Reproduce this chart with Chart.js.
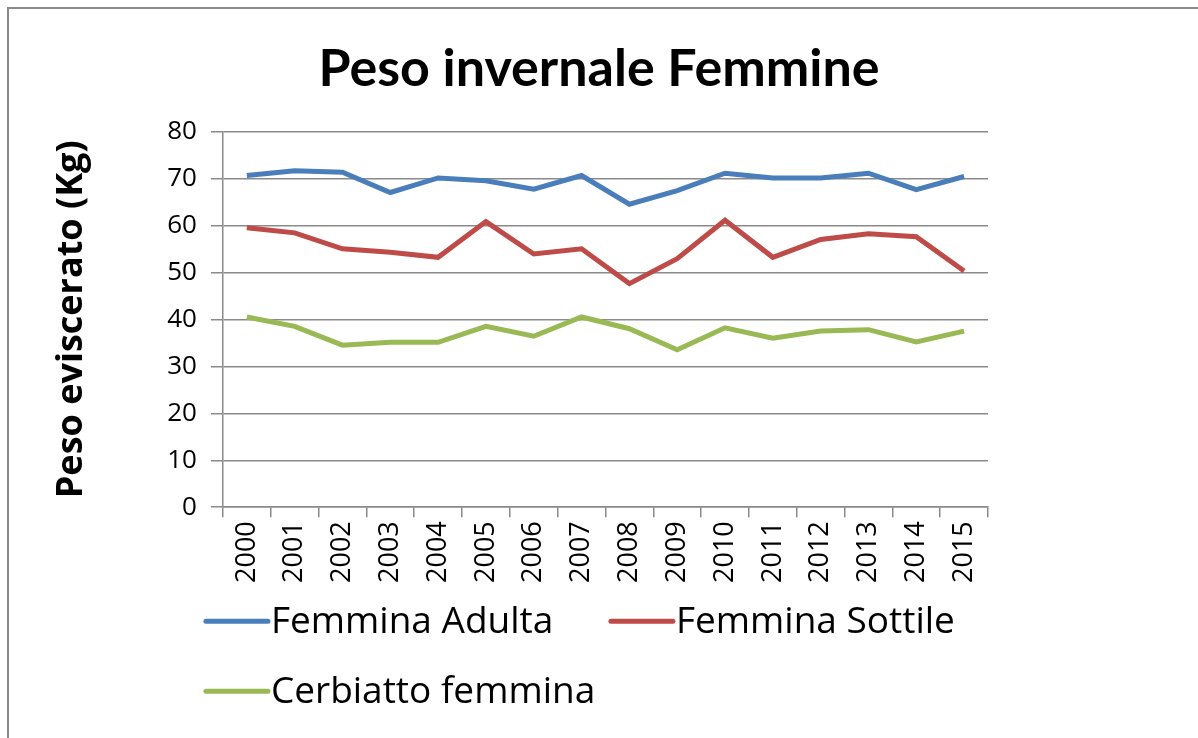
<!DOCTYPE html>
<html>
<head>
<meta charset="utf-8">
<script src="https://cdn.jsdelivr.net/npm/chart.js@4/dist/chart.umd.min.js"></script>
<style>
  body { margin: 0; background: #fff; overflow: hidden; }
  #cornice { position: absolute; left: 7px; top: 7px; width: 1400px; height: 900px; border: 2px solid #8a8a8a; }
  #wrap { position: absolute; left: 0; top: 0; width: 1198px; height: 738px; }
</style>
</head>
<body>
<div id="cornice"></div>
<div id="wrap"><canvas id="grafico" width="1198" height="738"></canvas></div>
<script>
// anni sull'asse x
var anni = ['2000','2001','2002','2003','2004','2005','2006','2007','2008','2009','2010','2011','2012','2013','2014','2015'];
// pesi medi (Kg)
var femminaAdulta = [70.6, 71.6, 71.3, 67.0, 70.1, 69.5, 67.7, 70.6, 64.5, 67.4, 71.1, 70.1, 70.1, 71.1, 67.6, 70.4];
var femminaSottile = [59.5, 58.4, 55.0, 54.3, 53.2, 60.8, 53.9, 55.0, 47.6, 52.9, 61.1, 53.2, 57.0, 58.2, 57.6, 50.3];
var cerbiattoFemmina = [40.5, 38.5, 34.5, 35.1, 35.1, 38.5, 36.4, 40.5, 38.0, 33.5, 38.2, 36.0, 37.5, 37.8, 35.2, 37.5];
var tickY = [0, 10, 20, 30, 40, 50, 60, 70, 80];

var serie = [
  { nome: 'Femmina Adulta', valori: femminaAdulta, colore: '#4a7ebb' },
  { nome: 'Femmina Sottile', valori: femminaSottile, colore: '#be4b48' },
  { nome: 'Cerbiatto femmina', valori: cerbiattoFemmina, colore: '#98b954' }
];

// legenda disegnata a mano, stile Excel (allineata a sinistra, su due righe)
var legendaExcel = {
  id: 'legendaExcel',
  afterDraw: function (chart) {
    var ctx = chart.ctx;
    var x0 = chart.chartArea.left - 19;
    var righe = [chart.chartArea.bottom + 114, chart.chartArea.bottom + 184];
    var posX = [x0, x0 + 405];
    ctx.save();
    ctx.font = '37px "Open Sans"';
    ctx.textBaseline = 'middle';
    chart.data.datasets.forEach(function (ds, i) {
      var x = posX[i % 2];
      var y = righe[Math.floor(i / 2)];
      ctx.strokeStyle = ds.borderColor;
      ctx.lineWidth = 5;
      ctx.lineCap = 'round';
      ctx.beginPath();
      ctx.moveTo(x + 2, y);
      ctx.lineTo(x + 64, y);
      ctx.stroke();
      ctx.fillStyle = '#000';
      ctx.fillText(ds.label, x + 67, y + 1);
    });
    ctx.restore();
  }
};

var ctx = document.getElementById('grafico');
var grafico = new Chart(ctx, {
  type: 'line',
  data: {
    labels: anni,
    datasets: serie.map(function (s) {
      return {
        label: s.nome,
        data: s.valori,
        borderColor: s.colore,
        backgroundColor: s.colore,
        borderWidth: 5,
        pointRadius: 0,
        tension: 0,
        fill: false
      };
    })
  },
  options: {
    responsive: false,
    animation: false,
    layout: { padding: { left: 50, right: 50, top: 18, bottom: 151 } },
    plugins: {
      legend: { display: false },
      tooltip: { enabled: false },
      title: {
        display: true,
        text: 'Peso invernale Femmine',
        color: '#000',
        font: { family: 'Lato', size: 52, weight: 'bold' },
        padding: { top: 20, bottom: 31 }
      }
    },
    scales: {
      x: {
        offset: true,
        grid: { display: true, drawOnChartArea: false, offset: true, color: '#8a8a8a', lineWidth: 1.5, tickLength: 10 },
        border: { color: '#8a8a8a', width: 1.5 },
        ticks: {
          color: '#000',
          font: { family: 'Open Sans', size: 27 },
          minRotation: 90,
          maxRotation: 90,
          padding: 4
        }
      },
      y: {
        min: 0,
        max: 80,
        afterBuildTicks: function (scala) {
          scala.ticks = tickY.map(function (v) { return { value: v }; });
        },
        grid: { color: '#8a8a8a', lineWidth: 1.5, tickLength: 12 },
        border: { color: '#8a8a8a', width: 1.5 },
        ticks: {
          color: '#000',
          font: { family: 'Open Sans', size: 26 },
          padding: 14
        },
        title: {
          display: true,
          text: 'Peso eviscerato (Kg)',
          color: '#000',
          font: { family: 'Open Sans', size: 36, weight: 'bold' },
          padding: { top: 0, bottom: 60 }
        }
      },
      // asse vuoto a destra: lascia lo spazio bianco come nell'originale
      destra: {
        position: 'right',
        display: true,
        grid: { display: false },
        border: { display: false },
        ticks: { display: false },
        afterFit: function (scala) { scala.width = 160; }
      }
    }
  },
  plugins: [legendaExcel]
});
</script>
</body>
</html>
